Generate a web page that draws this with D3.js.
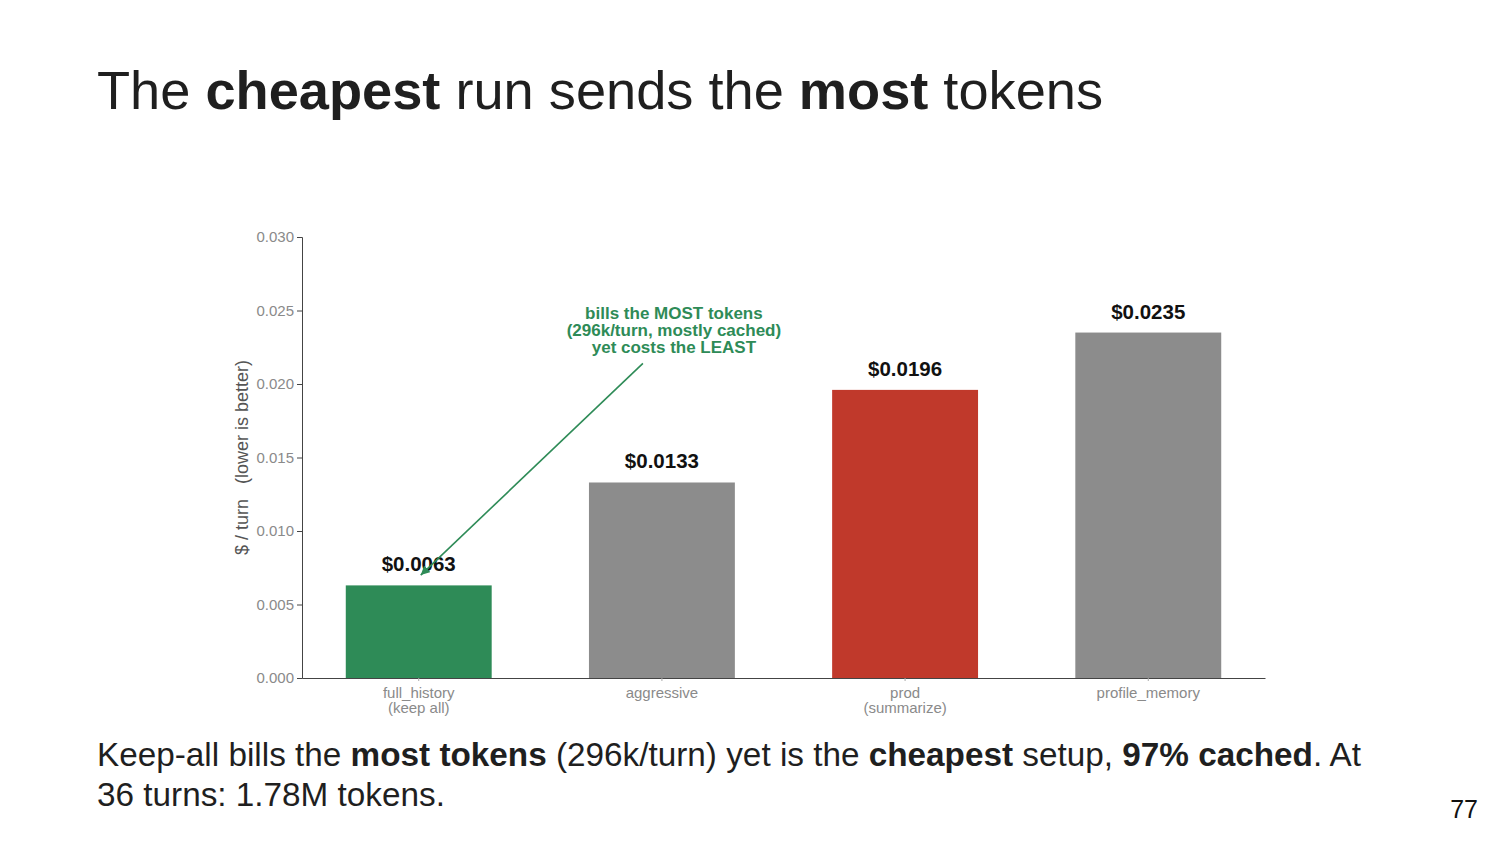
<!DOCTYPE html>
<html>
<head>
<meta charset="utf-8">
<script src="https://cdn.jsdelivr.net/npm/d3@7"></script>
<style>
  body { margin: 0; background: #fff; }
  svg { font-family: "Liberation Sans", Arial, sans-serif; display: block; }
  .tick text { fill: #8a8a8a; }
</style>
</head>
<body>
<svg width="1500" height="844"></svg>
<script>
// Data
const categories = ["full_history\n(keep all)", "aggressive", "prod\n(summarize)", "profile_memory"];
const costs = [0.0063, 0.0133, 0.0196, 0.0235];
const barColors = ["#2e8b57", "#8c8c8c", "#c0392b", "#8c8c8c"];
const yTicks = [0, 0.005, 0.01, 0.015, 0.02, 0.025, 0.03];
const annotationLines = ["bills the MOST tokens", "(296k/turn, mostly cached)", "yet costs the LEAST"];

const svg = d3.select("svg");
const plotLeft = 302, plotRight = 1265, plotTop = 237, plotBottom = 678;

const x = d3.scaleBand()
  .domain(categories)
  .range([plotLeft, plotRight])
  .paddingInner(0.4)
  .paddingOuter(0.18);

const y = d3.scaleLinear().domain([0, 0.03]).range([plotBottom, plotTop]);

// Title
const title = svg.append("text").attr("x", 97).attr("y", 109)
  .attr("font-size", 54.2).attr("fill", "#1f1f1f");
[["The ", 400], ["cheapest", 700], [" run sends the ", 400], ["most", 700], [" tokens", 400]]
  .forEach(([t, w]) => title.append("tspan").attr("font-weight", w).text(t));

// Bars
svg.selectAll(".bar")
  .data(costs)
  .join("rect")
  .attr("class", "bar")
  .attr("x", (d, i) => x(categories[i]))
  .attr("width", x.bandwidth())
  .attr("y", d => y(d))
  .attr("height", d => y(0) - y(d))
  .attr("fill", (d, i) => barColors[i]);

// Value labels
svg.selectAll(".val")
  .data(costs)
  .join("text")
  .attr("class", "val")
  .attr("x", (d, i) => x(categories[i]) + x.bandwidth() / 2)
  .attr("y", d => y(d) - 14)
  .attr("text-anchor", "middle")
  .attr("font-size", 20.5)
  .attr("font-weight", 700)
  .attr("fill", "#111")
  .text(d => "$" + d.toFixed(4));

// Y axis
const yAxis = svg.append("g")
  .attr("transform", `translate(${plotLeft},0)`)
  .call(d3.axisLeft(y).tickValues(yTicks).tickFormat(d3.format(".3f")).tickSize(5).tickPadding(3));
yAxis.select(".domain").attr("stroke", "#444");
yAxis.selectAll(".tick line").attr("stroke", "#444");
yAxis.selectAll(".tick text").attr("font-size", 15);

// X axis
const xAxis = svg.append("g")
  .attr("transform", `translate(0,${plotBottom})`)
  .call(d3.axisBottom(x).tickSize(3).tickSizeOuter(0).tickFormat(""));
xAxis.select(".domain").attr("stroke", "#444");
xAxis.selectAll(".tick line").attr("stroke", "#aaa");
xAxis.selectAll(".tick").each(function (d) {
  const t = d3.select(this).append("text")
    .attr("text-anchor", "middle")
    .attr("font-size", 15)
    .attr("fill", "#8a8a8a");
  d.split("\n").forEach((line, i) => {
    t.append("tspan").attr("x", 0).attr("y", 20 + i * 15).text(line);
  });
});

// Y label
svg.append("text")
  .attr("transform", `translate(248,${(plotTop + plotBottom) / 2}) rotate(-90)`)
  .attr("text-anchor", "middle")
  .attr("font-size", 18)
  .attr("fill", "#555")
  .attr("xml:space", "preserve")
  .style("white-space", "pre")
  .text("$ / turn   (lower is better)");

// Annotation
const green = "#2e8b57";
const annX = x(categories[1]) + x.bandwidth() / 2 + 12;
const ann = svg.append("text")
  .attr("text-anchor", "middle")
  .attr("font-size", 17)
  .attr("font-weight", 700)
  .attr("fill", green);
annotationLines.forEach((l, i) => {
  ann.append("tspan").attr("x", annX).attr("y", y(0.0244) + i * 17).text(l);
});

svg.append("defs").append("marker")
  .attr("id", "arrow")
  .attr("viewBox", "0 0 10 10")
  .attr("refX", 10).attr("refY", 5)
  .attr("markerWidth", 9).attr("markerHeight", 9)
  .attr("markerUnits", "userSpaceOnUse")
  .attr("orient", "auto")
  .append("path").attr("d", "M0,0 L10,5 L0,10 z").attr("fill", green);

const tipX = x(categories[0]) + x.bandwidth() / 2 + 2;
svg.append("line")
  .attr("x1", annX - 31).attr("y1", y(0.0214))
  .attr("x2", tipX).attr("y2", y(0.0070))
  .attr("stroke", green)
  .attr("stroke-width", 1.6)
  .attr("marker-end", "url(#arrow)");

// Footer text
const foot = svg.append("text").attr("font-size", 33.3).attr("fill", "#1f1f1f");
const line1 = [["Keep-all bills the ", 400], ["most tokens", 700], [" (296k/turn) yet is the ", 400],
  ["cheapest", 700], [" setup, ", 400], ["97% cached", 700], [". At", 400]];
line1.forEach(([t, w], i) => {
  const s = foot.append("tspan").attr("font-weight", w).text(t);
  if (i === 0) s.attr("x", 97).attr("y", 766);
});
foot.append("tspan").attr("x", 97).attr("y", 806).text("36 turns: 1.78M tokens.");

svg.append("text")
  .attr("x", 1478).attr("y", 818)
  .attr("text-anchor", "end")
  .attr("font-size", 25)
  .attr("fill", "#111")
  .text("77");
</script>
</body>
</html>
